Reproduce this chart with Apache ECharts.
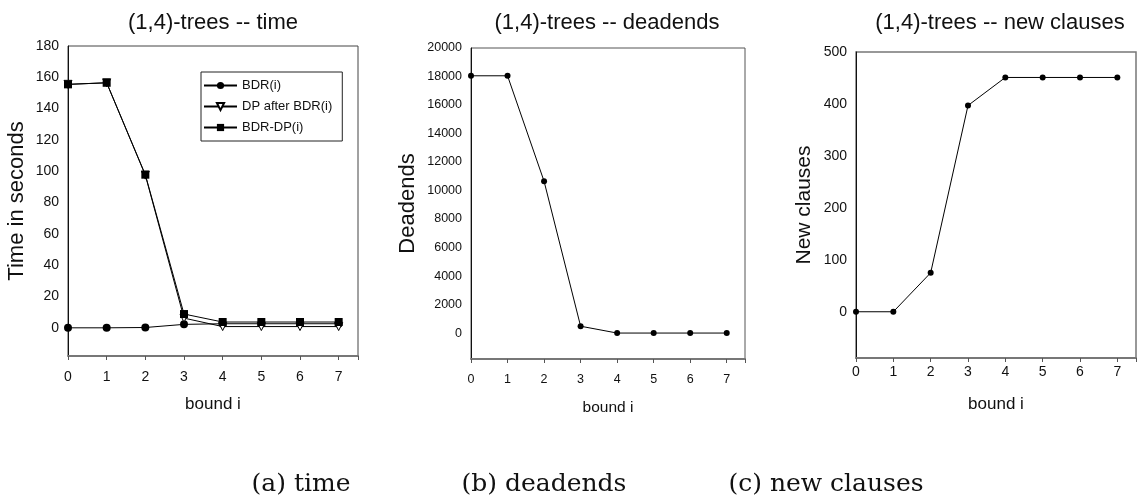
<!DOCTYPE html>
<html>
<head>
<meta charset="utf-8">
<script src="https://cdn.jsdelivr.net/npm/echarts@6/dist/echarts.min.js"></script>
<style>
  html, body { margin: 0; padding: 0; background: #fff; }
  #chart { width: 1139px; height: 499px; }
</style>
</head>
<body>
<div id="chart"></div>
<script>
// bound i on the x axis of all three panels
const bounds = [0, 1, 2, 3, 4, 5, 6, 7];

// (a) time in seconds
const bdrTime = [0, 0, 0.2, 2.2, 2.6, 2.6, 2.6, 2.6];
const dpAfterBdrTime = [155.5, 156.5, 97.5, 6.2, 0.8, 0.8, 0.8, 0.8];
const bdrDpTime = [155.5, 156.5, 97.8, 8.8, 3.7, 3.7, 3.7, 3.7];

// (b) deadends
const deadends = [18050, 18050, 10650, 480, 0, 0, 0, 0];

// (c) new clauses
const newClauses = [0, 0, 75, 397, 451, 451, 451, 451];

// tick labels
const timeTicks = [0, 20, 40, 60, 80, 100, 120, 140, 160, 180];
const deadendTicks = [0, 2000, 4000, 6000, 8000, 10000, 12000, 14000, 16000, 18000, 20000];
const clauseTicks = [0, 100, 200, 300, 400, 500];

const FONT = 'Liberation Sans';
const pairs = (vals) => bounds.map((b, k) => [b, vals[k]]);

function xAxisFor(gridIndex, labelMargin, labelSize, nameSize, nameGap) {
  return {
    type: 'value', gridIndex, min: 0, max: 7.5, interval: 1,
    name: 'bound i', nameLocation: 'middle', nameGap,
    nameTextStyle: { fontFamily: FONT, fontSize: nameSize, color: '#111' },
    axisLine: { show: true, onZero: false, lineStyle: { color: '#777', width: 2 } },
    axisTick: { show: true, inside: false, length: 4, lineStyle: { color: '#555' } },
    axisLabel: { fontFamily: FONT, fontSize: labelSize, color: '#111', margin: labelMargin,
      formatter: (v) => (Number.isInteger(v) ? String(v) : '') },
    splitLine: { show: false }
  };
}

function yAxisFor(gridIndex, min, max, ticks, name, nameGap, labelSize, nameSize) {
  return {
    type: 'value', gridIndex, min, max,
    name, nameLocation: 'middle', nameGap,
    nameTextStyle: { fontFamily: FONT, fontSize: nameSize, color: '#111' },
    axisLine: { show: true, onZero: false, lineStyle: { color: '#111', width: 1 } },
    axisTick: { show: false, customValues: ticks },
    axisLabel: { fontFamily: FONT, fontSize: labelSize, color: '#111', margin: 9,
      customValues: ticks, formatter: (v) => String(v) },
    splitLine: { show: false }
  };
}

const lineStyle = { color: '#000', width: 1 };
const dotStyle = { color: '#000' };

const titleStyle = { fontFamily: FONT, fontSize: 22, fill: '#111', align: 'center', verticalAlign: 'middle' };
const captionStyle = { fontFamily: 'DejaVu Serif', fontSize: 25, fill: '#111', align: 'center', verticalAlign: 'middle' };

const option = {
  animation: false,
  backgroundColor: '#fff',
  grid: [
    { left: 68, top: 46, width: 290, height: 310, show: true, borderColor: '#444', borderWidth: 1, containLabel: false },
    { left: 471, top: 48, width: 274, height: 311, show: true, borderColor: '#555', borderWidth: 1, containLabel: false },
    { left: 856, top: 52, width: 291, height: 306, show: true, borderColor: '#777', borderWidth: 1.5, containLabel: false }
  ],
  xAxis: [
    xAxisFor(0, 14, 14, 17, 40),
    xAxisFor(1, 14, 12.5, 15.5, 41),
    xAxisFor(2, 7, 14, 17, 38)
  ],
  yAxis: [
    yAxisFor(0, -18, 180, timeTicks, 'Time in seconds', 40, 14, 22),
    yAxisFor(1, -1820, 20000, deadendTicks, 'Deadends', 52, 12.5, 22),
    yAxisFor(2, -89, 500, clauseTicks, 'New clauses', 41, 14, 21)
  ],
  legend: {
    left: 201, top: 72, orient: 'vertical',
    data: ['BDR(i)', 'DP after BDR(i)', 'BDR-DP(i)'],
    backgroundColor: '#fff', borderColor: '#222', borderWidth: 1,
    padding: [7, 10, 7, 2],
    itemWidth: 33, itemHeight: 9, itemGap: 8,
    textStyle: { fontFamily: FONT, fontSize: 13, color: '#111' }
  },
  graphic: [
    { type: 'text', x: 213, y: 23, style: Object.assign({ text: '(1,4)-trees -- time' }, titleStyle) },
    { type: 'text', x: 607, y: 23, style: Object.assign({ text: '(1,4)-trees -- deadends' }, titleStyle) },
    { type: 'text', x: 1000, y: 23, style: Object.assign({ text: '(1,4)-trees -- new clauses' }, titleStyle) },
    { type: 'text', x: 301, y: 484, style: Object.assign({ text: '(a) time' }, captionStyle) },
    { type: 'text', x: 544, y: 484, style: Object.assign({ text: '(b) deadends' }, captionStyle) },
    { type: 'text', x: 826, y: 484, style: Object.assign({ text: '(c) new clauses' }, captionStyle) }
  ],
  series: [
    {
      name: 'BDR(i)', type: 'line', xAxisIndex: 0, yAxisIndex: 0,
      data: pairs(bdrTime), symbol: 'circle', symbolSize: 8,
      lineStyle, itemStyle: dotStyle, z: 2
    },
    {
      name: 'DP after BDR(i)', type: 'line', xAxisIndex: 0, yAxisIndex: 0,
      data: pairs(dpAfterBdrTime), symbol: 'triangle', symbolRotate: 180, symbolSize: 8,
      lineStyle, itemStyle: { color: '#fff', borderColor: '#000', borderWidth: 1 }, z: 3
    },
    {
      name: 'BDR-DP(i)', type: 'line', xAxisIndex: 0, yAxisIndex: 0,
      data: pairs(bdrDpTime), symbol: 'rect', symbolSize: 8,
      lineStyle, itemStyle: dotStyle, z: 4
    },
    {
      name: 'Deadends', type: 'line', xAxisIndex: 1, yAxisIndex: 1,
      data: pairs(deadends), symbol: 'circle', symbolSize: 6,
      lineStyle, itemStyle: dotStyle
    },
    {
      name: 'New clauses', type: 'line', xAxisIndex: 2, yAxisIndex: 2,
      data: pairs(newClauses), symbol: 'circle', symbolSize: 6,
      lineStyle, itemStyle: dotStyle
    }
  ]
};

const chart = echarts.init(document.getElementById('chart'), null, { renderer: 'canvas' });
chart.setOption(option);
</script>
</body>
</html>
